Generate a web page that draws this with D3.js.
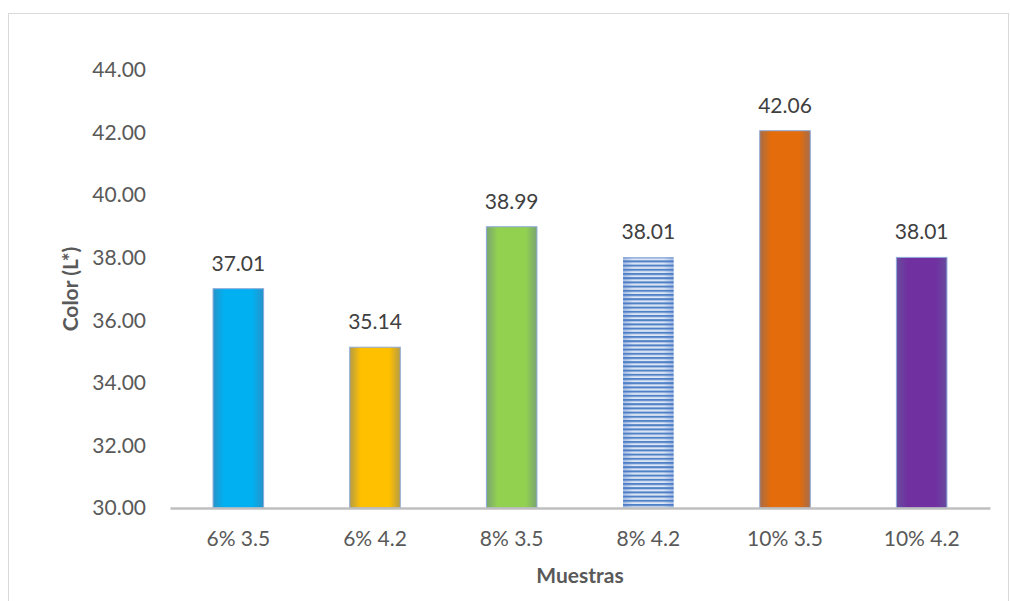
<!DOCTYPE html>
<html>
<head>
<meta charset="utf-8">
<script src="https://cdn.jsdelivr.net/npm/d3@7"></script>
<style>
  html, body { margin: 0; padding: 0; background: #fff; }
  svg { display: block; font-family: Lato, "Open Sans", "Liberation Sans", sans-serif; }
</style>
</head>
<body>
<svg id="chart" width="1010" height="601"></svg>
<script>
// Samples and their L* colour readings
const categories = ["6% 3.5", "6% 4.2", "8% 3.5", "8% 4.2", "10% 3.5", "10% 4.2"];
const values = [37.01, 35.14, 38.99, 38.01, 42.06, 38.01];
const yTicks = [30, 32, 34, 36, 38, 40, 42, 44];
const barColors = ["#00B0F0", "#FFC000", "#92D050", "stripes", "#E46C0A", "#7030A0"];

const svg = d3.select("#chart");
const FONT = "Lato, 'Open Sans', sans-serif";
const FS = 21;

// outer frame of the chart area
svg.append("rect")
  .attr("x", 8.5).attr("y", 13.5)
  .attr("width", 1000).attr("height", 600)
  .attr("fill", "#fff").attr("stroke", "#d9d9d9").attr("stroke-width", 1);

const plot = { left: 170, right: 990, top: 70, bottom: 508 };

const x = d3.scaleBand().domain(categories).range([plot.left, plot.right]).paddingInner(0.63).paddingOuter(0.315);
const y = d3.scaleLinear().domain([30, 44]).range([plot.bottom, plot.top]);

const defs = svg.append("defs");

// soft edge shading for each solid bar
function edgeGradient(id, color) {
  const dark = d3.interpolateRgb(color, "#5b6f9a")(0.45);
  const g = defs.append("linearGradient").attr("id", id).attr("x1", "0").attr("x2", "1").attr("y1", "0").attr("y2", "0");
  g.append("stop").attr("offset", "0%").attr("stop-color", dark);
  g.append("stop").attr("offset", "22%").attr("stop-color", color);
  g.append("stop").attr("offset", "78%").attr("stop-color", color);
  g.append("stop").attr("offset", "100%").attr("stop-color", dark);
}
barColors.forEach((c, i) => { if (c !== "stripes") edgeGradient("grad" + i, c); });

// horizontal line pattern for the striped bar
const pat = defs.append("pattern").attr("id", "stripes")
  .attr("patternUnits", "userSpaceOnUse").attr("width", 8).attr("height", 4.2);
pat.append("rect").attr("width", 8).attr("height", 4.2).attr("fill", "#dfe8f5");
pat.append("rect").attr("y", 0).attr("width", 8).attr("height", 1.8).attr("fill", "#4f81c7");
pat.append("rect").attr("y", 1.8).attr("width", 8).attr("height", 0.8).attr("fill", "#9db8e0");

const stripeEdge = defs.append("linearGradient").attr("id", "stripeEdge").attr("x1", "0").attr("x2", "1");
stripeEdge.append("stop").attr("offset", "0%").attr("stop-color", "#4472c4").attr("stop-opacity", 0.35);
stripeEdge.append("stop").attr("offset", "20%").attr("stop-color", "#4472c4").attr("stop-opacity", 0);
stripeEdge.append("stop").attr("offset", "80%").attr("stop-color", "#4472c4").attr("stop-opacity", 0);
stripeEdge.append("stop").attr("offset", "100%").attr("stop-color", "#4472c4").attr("stop-opacity", 0.35);

// y-axis labels (no axis line, no gridlines)
const yAxis = d3.axisLeft(y).tickValues(yTicks).tickFormat(d3.format(".2f")).tickSize(0).tickPadding(0);
const yg = svg.append("g").attr("transform", `translate(${plot.left - 24},0)`).call(yAxis);
yg.select(".domain").remove();
yg.selectAll("text").attr("font-size", FS).attr("fill", "#595959").attr("font-family", FONT);

// bars
const bars = svg.append("g");
categories.forEach((cat, i) => {
  const bx = x(cat), bw = x.bandwidth();
  const by = y(values[i]), bh = y(30) - y(values[i]);
  if (barColors[i] === "stripes") {
    bars.append("rect").attr("x", bx).attr("y", by).attr("width", bw).attr("height", bh).attr("fill", "url(#stripes)");
    bars.append("rect").attr("x", bx).attr("y", by).attr("width", bw).attr("height", bh).attr("fill", "url(#stripeEdge)");
  } else {
    bars.append("rect").attr("x", bx).attr("y", by).attr("width", bw).attr("height", bh)
      .attr("fill", `url(#grad${i})`).attr("stroke", "#8eaadb").attr("stroke-width", 1);
  }
  bars.append("text")
    .attr("x", bx + bw / 2).attr("y", by - 18)
    .attr("text-anchor", "middle").attr("font-size", FS).attr("fill", "#404040").attr("font-family", FONT)
    .text(d3.format(".2f")(values[i]));
});

// x axis baseline and category labels
const xAxis = d3.axisBottom(x).tickSize(0).tickPadding(23);
const xg = svg.append("g").attr("transform", `translate(0,${plot.bottom})`).call(xAxis);
xg.select(".domain").attr("stroke", "#bfbfbf").attr("stroke-width", 2.5);
xg.selectAll("text").attr("font-size", FS).attr("fill", "#595959").attr("font-family", FONT);

// axis titles
svg.append("text")
  .attr("transform", `translate(78,289) rotate(-90)`)
  .attr("text-anchor", "middle").attr("font-size", FS).attr("font-weight", "bold").attr("fill", "#595959")
  .attr("font-family", FONT)
  .text("Color (L*)");
svg.append("text")
  .attr("x", (plot.left + plot.right) / 2).attr("y", 583)
  .attr("text-anchor", "middle").attr("font-size", FS).attr("font-weight", "bold").attr("fill", "#595959")
  .attr("font-family", FONT)
  .text("Muestras");
</script>
</body>
</html>
